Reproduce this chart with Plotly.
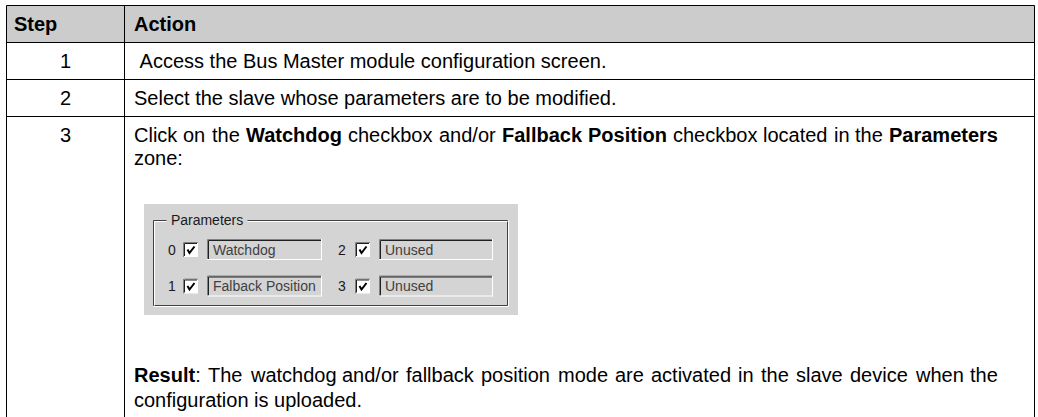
import plotly.graph_objects as go

# ---------------- data ----------------
header_labels = ["Step", "Action"]
step_numbers = ["1", "2", "3"]
step_actions = [
    "\u00a0Access the Bus Master module configuration screen.",
    "Select the slave whose parameters are to be modified.",
]
# paragraph of step 3: (text, bold) runs per line; wrapped lines are justified
step3_line1 = [("Click on the ", False), ("Watchdog", True), (" checkbox and/or ", False),
               ("Fallback Position", True), (" checkbox located in the ", False), ("Parameters", True)]
step3_line2 = "zone:"
result_line1 = [("Result", True), (": The watchdog and/or fallback position mode are activated in the slave device when the", False)]
result_line2 = "configuration is uploaded."
group_title = "Parameters"
param_indices = ["0", "1", "2", "3"]
param_labels = ["Watchdog", "Falback Position", "Unused", "Unused"]
param_checked = [True, True, True, True]

# ---------------- layout constants ----------------
W, H = 1038, 417
FONT = "Liberation Sans, Arial, Helvetica, sans-serif"
DLG_FONT = "Liberation Sans, Arial, sans-serif"
DLG_FS = 14
FS = 20
LEFT, RIGHT, DIV = 6.5, 1034.5, 124.5
ROW_LINES = [5.5, 42.5, 79.5, 116.5]
TEXT_X = 133
JUSTIFY_END = 997
HEADER_FILL = "#cccccc"
DLG_FILL = "#d4d4d4"

# Arial / Liberation Sans advance widths (1/1000 em)
REG = dict(zip(" :./abcdefghijklmnopqrstuvwxyz",
               [278, 278, 278, 278, 556, 556, 500, 556, 556, 278, 556, 556, 222, 222, 500, 222, 833,
                556, 556, 556, 556, 333, 500, 278, 556, 500, 722, 500, 500, 500]))
REG.update({"C": 722, "T": 611, "P": 667, "W": 944, "F": 611, "R": 722})
BOLD = dict(zip(" :abcdefghijklmnopqrstuvwxyz",
                [278, 333, 556, 611, 556, 611, 556, 333, 611, 611, 278, 278, 556, 278, 889, 611, 611,
                 611, 611, 389, 556, 333, 611, 556, 778, 556, 556, 500]))
BOLD.update({"W": 944, "F": 611, "P": 667, "R": 722})

shapes = []
annotations = []


def line(x0, y0, x1, y1, color="black", width=1):
    shapes.append(dict(type="line", xref="x", yref="y", x0=x0, y0=y0, x1=x1, y1=y1,
                       line=dict(color=color, width=width), layer="above"))


def rect(x0, y0, x1, y1, fill, color=None, width=0):
    shapes.append(dict(type="rect", xref="x", yref="y", x0=x0, y0=y0, x1=x1, y1=y1,
                       fillcolor=fill, line=dict(color=color or fill, width=width), layer="above"))


def text(x, y, s, size=FS, family=FONT, color="black", xanchor="left", bg=None, pad=0):
    a = dict(x=x, y=y, xref="x", yref="y", text=s, showarrow=False, xanchor=xanchor,
             yanchor="middle", font=dict(family=family, size=size, color=color), borderpad=pad)
    if bg:
        a["bgcolor"] = bg
    annotations.append(a)


def justified(runs, y, x0=TEXT_X, x1=JUSTIFY_END, size=FS):
    # split runs into words keeping bold info
    words = []  # list of list of (chars, bold)
    cur = []
    for t, b in runs:
        for ch in t:
            if ch == " ":
                if cur:
                    words.append(cur)
                    cur = []
            else:
                if cur and cur[-1][1] == b:
                    cur[-1] = (cur[-1][0] + ch, b)
                else:
                    cur.append((ch, b))
    if cur:
        words.append(cur)
    widths = []
    for w in words:
        tot = 0
        for t, b in w:
            tbl = BOLD if b else REG
            tot += sum(tbl.get(c, 556) for c in t)
        widths.append(tot / 1000 * size)
    gap = (x1 - x0 - sum(widths)) / (len(words) - 1)
    x = x0
    for w, wd in zip(words, widths):
        s = "".join(("<b>%s</b>" % t) if b else t for t, b in w)
        text(x, y, s, size=size)
        x += wd + gap


# ---------------- table ----------------
rect(LEFT, ROW_LINES[0], RIGHT, ROW_LINES[1], HEADER_FILL)
for y in ROW_LINES:
    line(LEFT, y, RIGHT, y)
line(LEFT, ROW_LINES[0], LEFT, H)
line(RIGHT, ROW_LINES[0], RIGHT, H)
line(DIV, ROW_LINES[0], DIV, H)

text(13, 24, "<b>" + header_labels[0] + "</b>")
text(TEXT_X, 24, "<b>" + header_labels[1] + "</b>")

row_centers = [61, 98, 134.5]
for i, n in enumerate(step_numbers):
    text((LEFT + DIV) / 2, row_centers[i], n, xanchor="center")
for i, s in enumerate(step_actions):
    text(TEXT_X, row_centers[i], s)
justified(step3_line1, 134.5)
text(TEXT_X, 158, step3_line2)
justified(result_line1, 375)
text(TEXT_X, 400, result_line2)

# ---------------- parameters dialog ----------------
rect(144, 204, 518, 315, DLG_FILL)
# etched group frame
gx0, gy0, gx1, gy1 = 153.5, 220.5, 507.5, 305.5
for off, col in ((0, "#404040"), (1, "#ffffff")):
    line(gx0 + off, gy0 + off, gx1, gy0 + off, col)
    line(gx0 + off, gy0 + off, gx0 + off, gy1, col)
    line(gx0, gy1 + off, gx1 + off, gy1 + off, col)
    line(gx1 + off, gy0, gx1 + off, gy1 + off, col)
text(166, 220, "\u00a0" + group_title + "\u00a0", size=DLG_FS, family=DLG_FONT, color="#1a1a1a",
     bg=DLG_FILL, pad=0)

cols = [dict(num_x=172, box_x=183, field_x0=207, field_x1=322),
        dict(num_x=342, box_x=355, field_x0=379, field_x1=493)]
row_y = [249.5, 286]
for k, (idx, lab, chk) in enumerate(zip(param_indices, param_labels, param_checked)):
    c = cols[k // 2]
    yc = row_y[k % 2]
    text(c["num_x"], yc, idx, size=DLG_FS, family=DLG_FONT, color="#1a1a1a", xanchor="center")
    # checkbox
    bx, by = c["box_x"], yc - 7.5
    rect(bx, by, bx + 15, by + 15, "#ffffff")
    line(bx + 0.5, by + 0.5, bx + 15, by + 0.5, "#808080")
    line(bx + 0.5, by + 0.5, bx + 0.5, by + 15, "#808080")
    line(bx + 1.5, by + 1.5, bx + 14, by + 1.5, "#202020")
    line(bx + 1.5, by + 1.5, bx + 1.5, by + 14, "#202020")
    if chk:
        shapes.append(dict(type="path", xref="x", yref="y",
                           path=f"M {bx+4.5},{by+7.5} L {bx+6.5},{by+11} L {bx+11.5},{by+4.5}",
                           line=dict(color="black", width=2), layer="above"))
    # sunken text field
    fx0, fx1 = c["field_x0"], c["field_x1"]
    fy0, fy1 = yc - 10.5, yc + 10.5
    line(fx0 + 0.5, fy0 + 0.5, fx1, fy0 + 0.5, "#808080")
    line(fx0 + 0.5, fy0 + 0.5, fx0 + 0.5, fy1, "#808080")
    line(fx0 + 1.5, fy0 + 1.5, fx1 - 1, fy0 + 1.5, "#202020")
    line(fx0 + 1.5, fy0 + 1.5, fx0 + 1.5, fy1 - 1, "#202020")
    line(fx0, fy1 - 0.5, fx1, fy1 - 0.5, "#ffffff")
    line(fx1 - 0.5, fy0, fx1 - 0.5, fy1, "#ffffff")
    text(fx0 + 5, yc, lab, size=DLG_FS, family=DLG_FONT, color="#404040")

fig = go.Figure()
fig.update_layout(
    width=W, height=H, margin=dict(l=0, r=0, t=0, b=0),
    paper_bgcolor="white", plot_bgcolor="white",
    xaxis=dict(range=[0, W], visible=False, fixedrange=True),
    yaxis=dict(range=[H, 0], visible=False, fixedrange=True),
    shapes=shapes, annotations=annotations, showlegend=False,
)
fig.write_html("out.html", config={"displayModeBar": False},
               post_script="document.body.style.margin='0';document.body.style.overflow='hidden';")
